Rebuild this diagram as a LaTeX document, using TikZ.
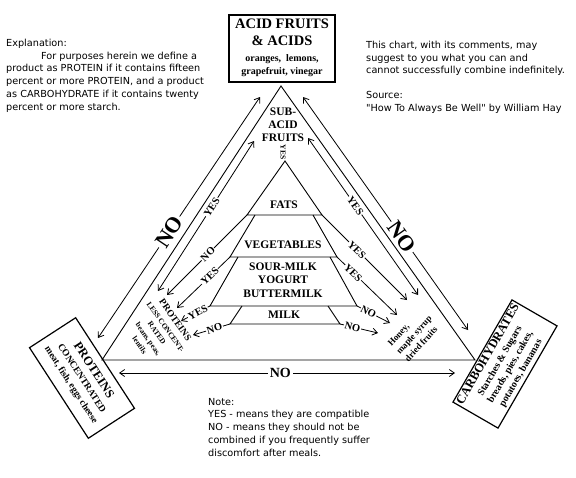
\documentclass[tikz,border=0pt]{standalone}
\usepackage{fontspec}
\setmainfont{Liberation Serif}
\newfontfamily\notefont{DejaVu Sans}
\usetikzlibrary{arrows.meta}
\newcommand\myfs[1]{\fontsize{#1}{#1}\selectfont}
\begin{document}
\begin{tikzpicture}[x=1pt,y=-1pt,
  ln/.style={line width=0.9pt},
  arw/.style={line width=0.8pt,-{Straight Barb[length=5pt,width=7pt]}},
  darw/.style={line width=0.8pt,{Straight Barb[length=5pt,width=7pt]}-{Straight Barb[length=5pt,width=7pt]}},
  lab/.style={fill=white,inner sep=0.8pt,font=\bfseries\myfs{10.5},sloped},
  biglab/.style={fill=white,inner sep=2pt,font=\bfseries\myfs{22},sloped},
  midlab/.style={fill=white,inner sep=2pt,font=\bfseries\myfs{14}},
  note/.style={font=\notefont\fontsize{9.7}{12.7}\selectfont,align=left,anchor=north west,inner sep=0pt},
  layer/.style={font=\bfseries\myfs{11.5},inner sep=0pt},
  boxed/.style={draw,line width=1.2pt,inner sep=0pt}
]
\useasboundingbox (0,0) rectangle (576,477);

% explanatory texts
\node[note] (expl) at (6,39) {Explanation:\\\hspace*{35pt}For purposes herein we define a\\product as PROTEIN if it contains fifteen\\percent or more PROTEIN, and a product\\as CARBOHYDRATE if it contains twenty\\percent or more starch.};
\node[note] (chart) at (366,41) {This chart, with its comments, may\\suggest to you what you can and\\cannot successfully combine indefinitely.\\[12pt]Source:\\"How To Always Be Well" by William Hay};
\node[note] (notes) at (208,398) {Note:\\YES - means they are compatible\\NO - means they should not be\\combined if you frequently suffer\\discomfort after meals.};

% corner boxes
\node[boxed,minimum width=106pt,minimum height=67pt,font=\bfseries\fontsize{10}{13}\selectfont] (acid) at (282,48.5)
  {\begin{tabular}{@{}c@{}}\myfs{14.5}ACID FRUITS\\[3.5pt]\myfs{14.5}\& ACIDS\\[3pt]oranges,\ \ lemons,\\grapefruit, vinegar\end{tabular}};
\node[boxed,rotate=-57,minimum width=108pt,minimum height=55pt,font=\bfseries\fontsize{9.5}{12.5}\selectfont] (prot) at (82,378)
  {\begin{tabular}{@{}c@{}}\myfs{12.5}PROTEINS\\[1pt]CONCENTRATED\\meat, fish, eggs cheese\end{tabular}};
\node[boxed,rotate=60,minimum width=118pt,minimum height=52pt,font=\bfseries\fontsize{10}{12}\selectfont] (carb) at (505,364)
  {\begin{tabular}{@{}c@{}}\myfs{12.5}CARBOHYDRATES\\[1pt]Starches \& Sugars\\breads, pies, cakes,\\potatoes, bananas\end{tabular}};

% big triangle
\coordinate (T) at (281,86);
\coordinate (L) at (102,360);
\coordinate (R) at (475,360);
\draw[ln] (T) -- (L) -- (R) -- cycle;

% outer NO arrows
\coordinate (nlA) at (260,97); \coordinate (nlB) at (98,338);
\draw[darw] (nlA) -- node[biglab,pos=0.56]{NO} (nlB);
\coordinate (nrA) at (303,97); \coordinate (nrB) at (468,330);
\draw[darw] (nrA) -- node[biglab,pos=0.6]{NO} (nrB);
\coordinate (nbA) at (119,373); \coordinate (nbB) at (455,373);
\draw[darw] (nbA) -- node[midlab,pos=0.48]{NO} (nbB);

% sub-acid fruits
\node[font=\bfseries\fontsize{11.5}{13}\selectfont,align=center,inner sep=0pt] (sub) at (283,125) {SUB-\\ACID\\FRUITS};
\node[font=\bfseries\myfs{7.5},rotate=-90,inner sep=0pt] (vyes) at (283,152) {YES};
\coordinate (yl1) at (254,141); \coordinate (yl2) at (158,291);
\draw[darw] (yl1) -- node[lab,pos=0.44]{YES} (yl2);
\coordinate (yr1) at (308,138); \coordinate (yr2) at (418,295);
\draw[darw] (yr1) -- node[lab,pos=0.43]{YES} (yr2);

% inner pyramid
\coordinate (A) at (285,161);
\coordinate (FL) at (247,215); \coordinate (FR) at (322,215);
\draw[ln] (A) -- (FR) -- (FL) -- cycle;
\coordinate (V1) at (255,215); \coordinate (V2) at (313,215);
\coordinate (VR) at (337,257); \coordinate (VL) at (230,257);
\draw[ln] (V1) -- (VL) -- (VR) -- (V2);
\coordinate (S1) at (238,257); \coordinate (S2) at (330,257);
\coordinate (SR) at (357,306); \coordinate (SL) at (210,306);
\draw[ln] (S1) -- (SL) -- (SR) -- (S2);
\coordinate (M1) at (242,306); \coordinate (M2) at (328,306);
\coordinate (MR) at (340,324); \coordinate (ML) at (230,324);
\draw[ln] (M1) -- (ML) -- (MR) -- (M2);

\node[layer] (fats) at (284,205) {FATS};
\node[layer] (veg) at (283,245) {VEGETABLES};
\node[layer,align=center,font=\bfseries\fontsize{11.5}{13.5}\selectfont] (sour) at (283,280) {SOUR-MILK\\YOGURT\\BUTTERMILK};
\node[layer] (milk) at (284,315) {MILK};

% arrows to proteins (less concentrated)
\coordinate (pl1) at (167,295); \draw[arw] (FL) -- node[lab,pos=0.49]{NO} (pl1);
\coordinate (pl2) at (177,308); \draw[arw] (VL) -- node[lab,pos=0.38]{YES} (pl2);
\coordinate (pl3) at (181,321); \draw[arw] (SL) -- node[lab,pos=0.42]{YES} (pl3);
\coordinate (pl4) at (193,335); \draw[arw] (ML) -- node[lab,pos=0.42]{NO} (pl4);

% arrows to honey etc.
\coordinate (hr1) at (407,300); \draw[arw] (FR) -- node[lab,pos=0.41]{YES} (hr1);
\coordinate (hr2) at (397,315); \draw[arw] (VR) -- node[lab,pos=0.27]{YES} (hr2);
\coordinate (hr3) at (390,323); \draw[arw] (SR) -- node[lab,pos=0.35]{NO} (hr3);
\coordinate (hr4) at (378,333); \draw[arw] (MR) -- node[lab,pos=0.33]{NO} (hr4);

\node[font=\bfseries\fontsize{9}{11.5}\selectfont,align=left,rotate=48,inner sep=0pt] (honey) at (414,335) {Honey,\\maple syrup\\dried fruits};
\node[rotate=-55,inner sep=0pt,font=\bfseries\fontsize{7.5}{10.5}\selectfont] (pless) at (157,333)
  {\begin{tabular}{@{}c@{}}\myfs{9.5}PROTEINS\\[1pt]LESS CONCENT-\\RATED\\beans, peas,\\lentils\end{tabular}};
\end{tikzpicture}
\end{document}
